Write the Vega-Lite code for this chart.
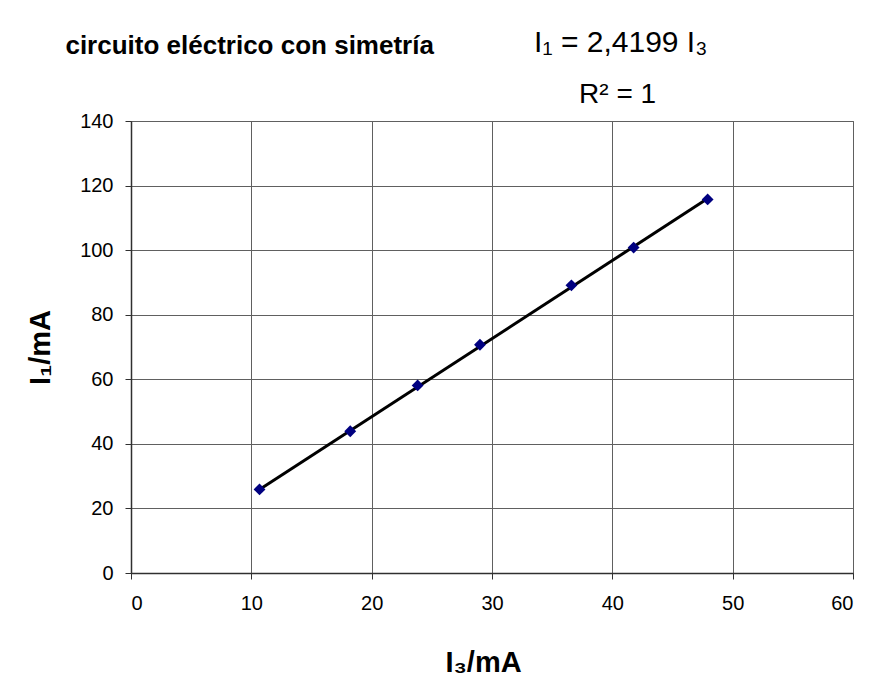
{
  "$schema": "https://vega.github.io/schema/vega-lite/v6.json",
  "width": 722,
  "height": 452,
  "autosize": {"type": "none"},
  "padding": {"left": 131, "top": 121, "right": 23, "bottom": 111},
  "background": "white",
  "config": {
    "font": "Liberation Sans",
    "view": {"stroke": "#606060", "strokeWidth": 1},
    "axis": {
      "gridColor": "#606060",
      "gridOpacity": 1,
      "gridWidth": 1,
      "domainColor": "#303030",
      "domainWidth": 1.5,
      "tickColor": "#303030",
      "tickSize": 6,
      "labelFont": "Liberation Sans",
      "labelFontSize": 20,
      "labelColor": "black",
      "titleFont": "Liberation Sans",
      "titleFontSize": 29,
      "titleFontWeight": "bold",
      "titleColor": "black"
    }
  },
  "datasets": {
    "points": [
      {"I3": 10.68, "I1": 25.9},
      {"I3": 18.22, "I1": 43.9},
      {"I3": 23.82, "I1": 58.1},
      {"I3": 29.0, "I1": 70.7},
      {"I3": 36.6, "I1": 89.1},
      {"I3": 41.77, "I1": 100.8},
      {"I3": 47.92, "I1": 115.7}
    ],
    "trend": [
      {"I3": 10.68, "I1": 25.84},
      {"I3": 47.92, "I1": 115.96}
    ]
  },
  "layer": [
    {
      "data": {"name": "trend"},
      "mark": {"type": "line", "color": "black", "strokeWidth": 3},
      "encoding": {
        "x": {
          "field": "I3", "type": "quantitative",
          "scale": {"domain": [0, 60], "nice": false},
          "axis": {"values": [0, 10, 20, 30, 40, 50, 60], "title": "I₃/mA", "labelPadding": 14, "titlePadding": 35, "titleX": 352, "titleAlign": "center"}
        },
        "y": {
          "field": "I1", "type": "quantitative",
          "scale": {"domain": [0, 140], "nice": false},
          "axis": {"values": [0, 20, 40, 60, 80, 100, 120, 140], "title": "I₁/mA", "labelPadding": 12, "titlePadding": 24}
        }
      }
    },
    {
      "data": {"name": "points"},
      "mark": {"type": "point", "shape": "diamond", "filled": true, "color": "#000080", "size": 140, "opacity": 1},
      "encoding": {
        "x": {"field": "I3", "type": "quantitative"},
        "y": {"field": "I1", "type": "quantitative"}
      }
    },
    {
      "data": {"values": [{"label": "circuito eléctrico con simetría"}]},
      "mark": {"type": "text", "align": "left", "baseline": "alphabetic", "fontSize": 26, "fontWeight": "bold", "font": "Liberation Sans", "color": "black"},
      "encoding": {
        "x": {"datum": -5.45},
        "y": {"datum": 160.8},
        "text": {"field": "label"}
      }
    },
    {
      "data": {"values": [{"label": "I₁ = 2,4199 I₃"}]},
      "mark": {"type": "text", "align": "left", "baseline": "alphabetic", "fontSize": 30, "font": "Liberation Sans", "color": "black"},
      "encoding": {
        "x": {"datum": 33.5},
        "y": {"datum": 161.4},
        "text": {"field": "label"}
      }
    },
    {
      "data": {"values": [{"label": "R² = 1"}]},
      "mark": {"type": "text", "align": "left", "baseline": "alphabetic", "fontSize": 28, "font": "Liberation Sans", "color": "black"},
      "encoding": {
        "x": {"datum": 37.24},
        "y": {"datum": 145.5},
        "text": {"field": "label"}
      }
    }
  ]
}
